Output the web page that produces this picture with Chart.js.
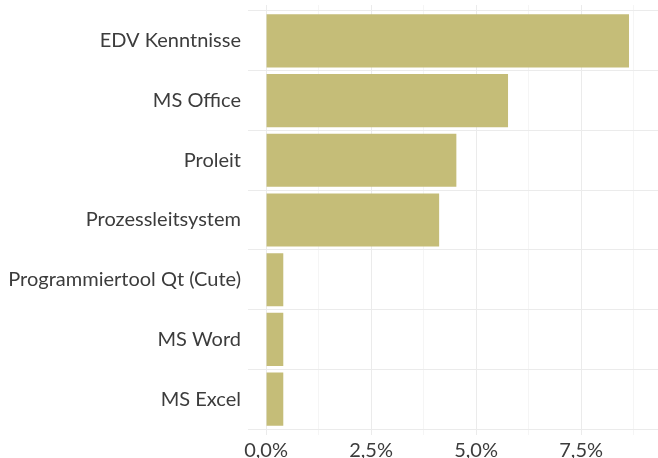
<!DOCTYPE html>
<html>
<head>
<meta charset="utf-8">
<script src="https://cdn.jsdelivr.net/npm/chart.js@4"></script>
<style>
  html, body { margin: 0; padding: 0; background: #fff; }
  #wrap { width: 658px; height: 458px; }
</style>
</head>
<body>
<div id="wrap"><canvas id="chart" width="658" height="458"></canvas></div>
<script>
// --- Data ---
const categories = ['EDV Kenntnisse', 'MS Office', 'Proleit', 'Prozessleitsystem',
  'Programmiertool Qt (Cute)', 'MS Word', 'MS Excel'];
const shares = [8.64, 5.76, 4.53, 4.12, 0.41, 0.41, 0.41];
const majorTicks = [0, 2.5, 5, 7.5];
const minorTicks = [1.25, 3.75, 6.25, 8.75];

const fmt = (v) => v.toFixed(1).replace('.', ',') + '%';

const ctx = document.getElementById('chart').getContext('2d');
new Chart(ctx, {
    type: 'bar',
    data: {
        datasets: [{
            data: shares.map((v, i) => ({ x: v, y: i })),
            backgroundColor: '#c5bd78',
            borderWidth: 0,
            barPercentage: 0.89,
            categoryPercentage: 1
        }]
    },
    options: {
        indexAxis: 'y',
        responsive: false,
        animation: false,
        layout: { padding: { top: 5, right: 0, left: 0, bottom: 0 } },
        plugins: { legend: { display: false }, tooltip: { enabled: false } },
        scales: {
            x: {
                type: 'linear',
                min: -0.43,
                max: 9.33,
                border: { display: false },
                afterBuildTicks: (s) => {
                    s.ticks = [...majorTicks, ...minorTicks].sort((a, b) => a - b).map(v => ({ value: v }));
                },
                afterFit: (s) => { s.height = 23; s.paddingLeft = 0; s.paddingRight = 0; },
                grid: {
                    drawTicks: false,
                    color: (c) => majorTicks.includes(c.tick.value) ? '#ebebeb' : '#f5f5f5',
                    lineWidth: 1
                },
                ticks: {
                    padding: 4,
                    maxRotation: 0,
                    autoSkip: false,
                    color: '#3c3c3c',
                    font: { family: 'Lato', size: 20 },
                    callback: (v) => majorTicks.includes(v) ? fmt(v) : ''
                }
            },
            y: {
                type: 'linear',
                min: -0.6,
                max: 6.6,
                reverse: true,
                offset: false,
                border: { display: false },
                afterBuildTicks: (s) => {
                    s.ticks = categories.map((_, i) => ({ value: i }));
                },
                afterFit: (s) => { s.width = 248; s.paddingTop = 0; s.paddingBottom = 0; },
                grid: { drawTicks: false, color: '#ebebeb', lineWidth: 1 },
                ticks: {
                    padding: 7,
                    autoSkip: false,
                    color: '#3c3c3c',
                    font: { family: 'Lato', size: 20 },
                    callback: (v) => categories[v]
                }
            }
        }
    }
});
</script>
</body>
</html>
